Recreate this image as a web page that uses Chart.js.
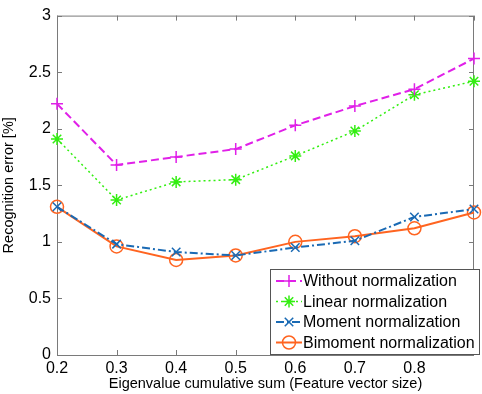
<!DOCTYPE html>
<html>
<head>
<meta charset="utf-8">
<script src="https://cdn.jsdelivr.net/npm/chart.js@4"></script>
<style>
  html, body { margin: 0; padding: 0; background: #fff; }
  #wrap { width: 482px; height: 394px; }
</style>
</head>
<body>
<div id="wrap"><canvas id="grafik" width="482" height="394"></canvas></div>
<script>
// x değerleri (özdeğer kümülatif toplamı)
const xDegerleri = [0.2, 0.3, 0.4, 0.5, 0.6, 0.7, 0.8, 0.9];
const yTikleri = [0, 0.5, 1, 1.5, 2, 2.5, 3];

const seriAdlari = ['Without normalization', 'Linear normalization', 'Moment normalization', 'Bimoment normalization'];
const normYok   = [2.22, 1.68, 1.75, 1.82, 2.03, 2.20, 2.35, 2.62];
const lineer    = [1.91, 1.37, 1.53, 1.55, 1.76, 1.98, 2.30, 2.42];
const moment    = [1.31, 0.98, 0.91, 0.88, 0.95, 1.01, 1.22, 1.29];
const bimoment  = [1.31, 0.96, 0.84, 0.88, 1.00, 1.05, 1.12, 1.26];

const renkler = ['#e020e8', '#33ee11', '#1a6ab4', '#ff6420'];
const cizgiler = [[8, 4], [2, 3], [8, 3, 2, 3], []];
const noktalar = ['cross', 'star', 'crossRot', 'circle'];
const seriler = [normYok, lineer, moment, bimoment];

const FONT = 'Liberation Sans, Arial, sans-serif';

let datasets = seriler.map(function(seri, i) {
    return {
        label: seriAdlari[i],
        data: seri.map((v, j) => ({ x: xDegerleri[j], y: v })),
        borderColor: renkler[i],
        backgroundColor: 'rgba(0,0,0,0)',
        borderWidth: i === 1 ? 1.5 : 2,
        borderDash: cizgiler[i],
        pointStyle: noktalar[i],
        pointRadius: i === 3 ? 6.5 : 6,
        pointBorderWidth: 1.5,
        pointBorderColor: renkler[i],
        pointBackgroundColor: 'rgba(0,0,0,0)',
        clip: false,
        tension: 0
    };
});

// Çerçeve, içe dönük tikler ve lejant
const cerceve = {
    id: 'cerceve',
    beforeDatasetsDraw(chart) {
        const ctx = chart.ctx;
        const a = chart.chartArea;
        const xs = chart.scales.x, ys = chart.scales.y;
        ctx.save();
        ctx.strokeStyle = '#7a7a7a';
        ctx.lineWidth = 1;
        ctx.strokeRect(a.left + 0.5, a.top + 0.5, a.right - a.left - 1, a.bottom - a.top);
        ctx.beginPath();
        xDegerleri.forEach(function(v) {
            let px = Math.round(xs.getPixelForValue(v)) + 0.5;
            ctx.moveTo(px, a.bottom); ctx.lineTo(px, a.bottom - 5);
            ctx.moveTo(px, a.top); ctx.lineTo(px, a.top + 5);
        });
        yTikleri.forEach(function(v) {
            let py = Math.round(ys.getPixelForValue(v)) + 0.5;
            ctx.moveTo(a.left, py); ctx.lineTo(a.left + 5, py);
            ctx.moveTo(a.right, py); ctx.lineTo(a.right - 5, py);
        });
        ctx.stroke();
        ctx.restore();
    },
    afterDraw(chart) {
        const ctx = chart.ctx;
        ctx.save();
        // lejant kutusu
        const lx = 270, ly = 269, lw = 210, lh = 86;
        ctx.fillStyle = '#fff';
        ctx.fillRect(lx, ly, lw, lh);
        ctx.strokeStyle = '#555';
        ctx.lineWidth = 1;
        ctx.strokeRect(lx + 0.5, ly + 0.5, lw - 1, lh - 1);
        ctx.font = '16px ' + FONT;
        ctx.textBaseline = 'middle';
        chart.data.datasets.forEach(function(ds, i) {
            let y = ly + 12 + i * 20.5;
            ctx.strokeStyle = ds.borderColor;
            ctx.lineWidth = ds.borderWidth;
            ctx.setLineDash(ds.borderDash);
            ctx.beginPath();
            ctx.moveTo(lx + 6, y); ctx.lineTo(lx + 32, y);
            ctx.stroke();
            ctx.setLineDash([]);
            ctx.lineWidth = 1.5;
            ctx.fillStyle = 'rgba(0,0,0,0)';
            Chart.helpers.drawPoint(ctx, { pointStyle: ds.pointStyle, radius: ds.pointRadius, borderWidth: 1.5 }, lx + 19, y);
            ctx.fillStyle = '#000';
            ctx.fillText(ds.label, lx + 33, y + 1);
        });
        ctx.restore();
    }
};

new Chart(document.getElementById('grafik'), {
    type: 'line',
    data: { datasets: datasets },
    options: {
        responsive: false,
        animation: false,
        layout: { padding: { top: 12, right: 2, left: 0, bottom: 0 } },
        plugins: { legend: { display: false }, tooltip: { enabled: false } },
        scales: {
            x: {
                type: 'linear', min: 0.2, max: 0.9,
                afterBuildTicks: s => { s.ticks = xDegerleri.map(v => ({ value: v })); },
                grid: { display: false, drawTicks: false },
                border: { display: false },
                ticks: {
                    color: '#000', padding: 4,
                    font: { family: FONT, size: 16 },
                    callback: v => (Math.abs(v - 0.9) < 1e-6 ? '' : v.toFixed(1))
                },
                title: { display: true, text: 'Eigenvalue cumulative sum (Feature vector size)', color: '#000', font: { family: FONT, size: 14.5 }, padding: { top: 0, bottom: 1 } },
                afterFit: s => { s.height = 39; }
            },
            y: {
                min: 0, max: 3,
                afterBuildTicks: s => { s.ticks = yTikleri.map(v => ({ value: v })); },
                grid: { display: false, drawTicks: false },
                border: { display: false },
                ticks: { color: '#000', padding: 6, font: { family: FONT, size: 16 }, callback: v => String(v) },
                title: { display: true, text: 'Recognition error [%]', color: '#000', font: { family: FONT, size: 14.5 }, padding: { top: 0, bottom: 2 } },
                afterFit: s => { s.width = 57; }
            }
        }
    },
    plugins: [cerceve]
});
</script>
</body>
</html>
